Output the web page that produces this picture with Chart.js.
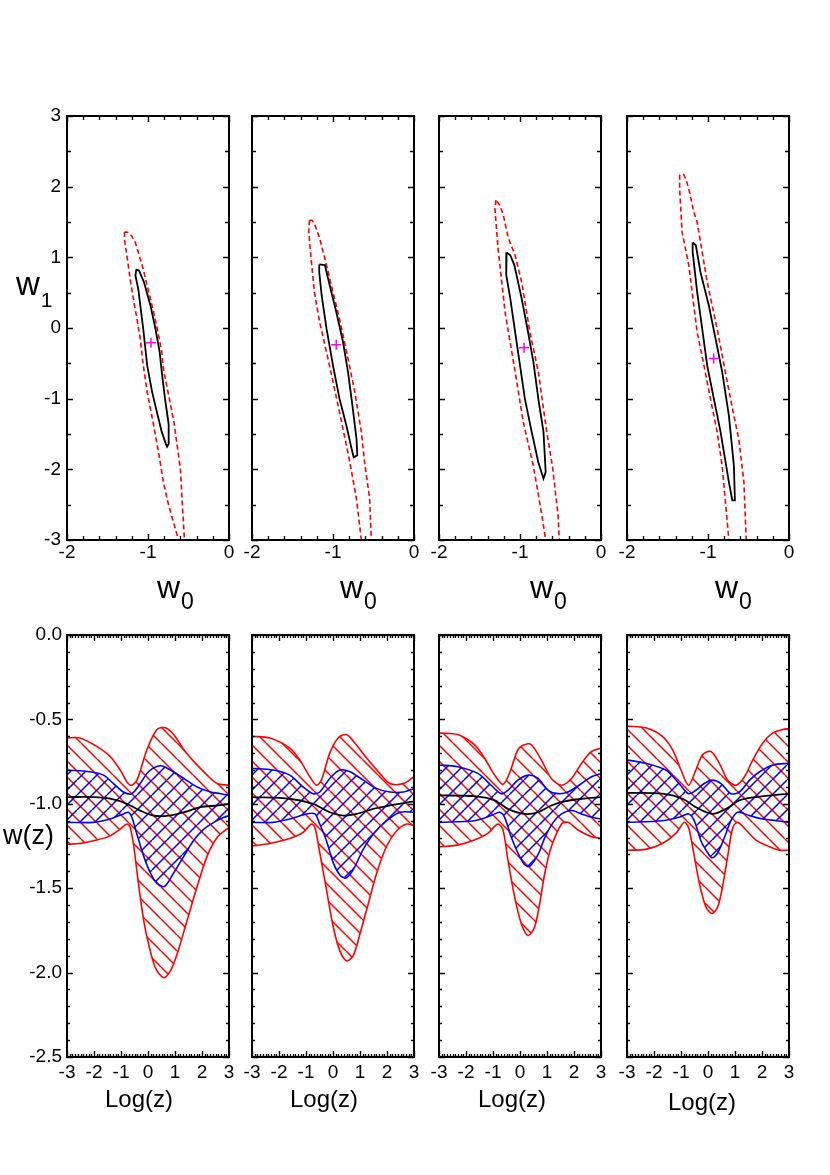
<!DOCTYPE html>
<html><head><meta charset="utf-8">
<script src="https://cdn.jsdelivr.net/npm/chart.js@4.4.1/dist/chart.umd.min.js"></script>
<style>
body{margin:0;background:#fff;width:830px;height:1175px;position:relative;overflow:hidden;font-family:"Liberation Sans",Arial,sans-serif;}
canvas{position:absolute;}
.lbl{position:absolute;white-space:nowrap;line-height:1;color:#000;font-family:"Liberation Sans",Arial,sans-serif;}
.sb{position:relative;margin-left:1px;}
</style></head><body>
<script>
// ---------- DATA ----------
// top row: confidence contours in (w0, w1)
const c1Inner = [[-1.144,0.83],[-1.155,0.74],[-1.12,0.55],[-1.095,0.32],[-1.06,0.0],[-1.01,-0.53],[-0.95,-0.9],[-0.89,-1.19],[-0.83,-1.47],[-0.78,-1.64],[-0.765,-1.68],[-0.745,-1.64],[-0.745,-1.36],[-0.79,-1.0],[-0.83,-0.62],[-0.856,-0.34],[-0.91,0.0],[-0.97,0.32],[-1.05,0.65],[-1.11,0.81],[-1.144,0.83]];
const c1Outer = [[-1.29,1.36],[-1.29,1.25],[-1.26,1.02],[-1.22,0.69],[-1.18,0.41],[-1.136,0.13],[-1.095,-0.15],[-1.07,-0.43],[-1.01,-0.905],[-0.93,-1.38],[-0.856,-1.85],[-0.81,-2.18],[-0.745,-2.51],[-0.64,-2.93],[-0.62,-3.1],[-0.545,-3.1],[-0.55,-3.0],[-0.58,-2.41],[-0.60,-1.99],[-0.68,-1.33],[-0.745,-0.95],[-0.81,-0.58],[-0.83,-0.34],[-0.885,-0.01],[-0.95,0.32],[-1.01,0.60],[-1.07,0.88],[-1.156,1.21],[-1.2,1.30],[-1.24,1.35],[-1.29,1.36]];
const c1Best = [-0.963,-0.21];

const c2Inner = [[-1.17,0.90],[-1.17,0.79],[-1.14,0.46],[-1.08,-0.01],[-1.0,-0.53],[-0.92,-1.0],[-0.835,-1.38],[-0.77,-1.71],[-0.745,-1.83],[-0.70,-1.80],[-0.71,-1.57],[-0.76,-1.10],[-0.815,-0.62],[-0.876,-0.20],[-0.96,0.23],[-1.04,0.60],[-1.10,0.89],[-1.17,0.90]];
const c2Outer = [[-1.29,1.525],[-1.30,1.36],[-1.27,0.98],[-1.23,0.51],[-1.165,0.085],[-1.08,-0.34],[-1.0,-0.76],[-0.92,-1.19],[-0.80,-1.85],[-0.71,-2.42],[-0.65,-3.0],[-0.63,-3.1],[-0.52,-3.1],[-0.527,-3.0],[-0.547,-2.42],[-0.61,-1.90],[-0.65,-1.47],[-0.73,-0.91],[-0.815,-0.43],[-0.92,0.13],[-1.02,0.60],[-1.08,0.89],[-1.165,1.27],[-1.23,1.48],[-1.26,1.525],[-1.29,1.525]];
const c2Best = [-0.96,-0.236];

const c3Inner = [[-1.165,1.07],[-1.17,0.75],[-1.12,0.42],[-1.06,-0.06],[-1.0,-0.53],[-0.94,-1.0],[-0.856,-1.47],[-0.774,-1.90],[-0.71,-2.13],[-0.683,-2.04],[-0.71,-1.47],[-0.774,-1.0],[-0.835,-0.48],[-0.90,-0.06],[-0.98,0.42],[-1.07,0.89],[-1.12,1.03],[-1.165,1.07]];
const c3Outer = [[-1.296,1.81],[-1.31,1.69],[-1.27,1.12],[-1.185,0.23],[-1.06,-0.62],[-0.96,-1.33],[-0.835,-1.95],[-0.73,-2.65],[-0.683,-3.0],[-0.67,-3.1],[-0.51,-3.1],[-0.515,-3.0],[-0.53,-2.65],[-0.60,-1.95],[-0.67,-1.47],[-0.774,-0.62],[-0.877,-0.06],[-0.98,0.65],[-1.06,1.03],[-1.144,1.27],[-1.206,1.60],[-1.25,1.74],[-1.296,1.81]];
const c3Best = [-0.95,-0.28];

const c4Inner = [[-1.19,1.21],[-1.19,1.08],[-1.134,0.51],[-1.072,-0.01],[-1.01,-0.53],[-0.928,-1.0],[-0.845,-1.47],[-0.742,-2.18],[-0.70,-2.44],[-0.668,-2.44],[-0.68,-1.95],[-0.742,-1.24],[-0.825,-0.62],[-0.907,-0.15],[-0.99,0.32],[-1.093,0.79],[-1.15,1.17],[-1.19,1.21]];
const c4Outer = [[-1.35,2.17],[-1.35,1.97],[-1.32,1.36],[-1.237,0.89],[-1.196,0.51],[-1.134,-0.06],[-1.05,-0.53],[-0.97,-1.0],[-0.887,-1.47],[-0.825,-1.95],[-0.742,-3.0],[-0.73,-3.1],[-0.52,-3.1],[-0.528,-3.0],[-0.557,-2.18],[-0.62,-1.57],[-0.68,-1.24],[-0.763,-0.76],[-0.887,-0.01],[-1.01,0.65],[-1.134,1.50],[-1.175,1.64],[-1.237,1.97],[-1.278,2.12],[-1.30,2.17],[-1.35,2.17]];
const c4Best = [-0.93,-0.43];

// bottom row: w(z) bands vs log(z)
const p1RedUp = [[-3,-0.61],[-2.52,-0.61],[-1.9,-0.66],[-1.4,-0.72],[-1.03,-0.80],[-0.78,-0.87],[-0.62,-0.89],[-0.41,-0.86],[-0.04,-0.68],[0.33,-0.56],[0.64,-0.55],[0.95,-0.59],[1.33,-0.68],[1.7,-0.75],[2.19,-0.83],[2.56,-0.88],[3,-0.89]];
const p1RedLo = [[-3,-1.24],[-2.52,-1.235],[-1.9,-1.215],[-1.4,-1.19],[-1.03,-1.15],[-0.78,-1.12],[-0.66,-1.14],[-0.53,-1.25],[-0.34,-1.49],[-0.16,-1.69],[0.02,-1.83],[0.27,-1.97],[0.58,-2.03],[0.83,-1.99],[1.08,-1.89],[1.45,-1.69],[1.82,-1.49],[2.19,-1.31],[2.56,-1.20],[3,-1.14]];
const p1BlueUp = [[-3,-0.80],[-2.15,-0.81],[-1.65,-0.83],[-1.28,-0.88],[-0.91,-0.93],[-0.60,-0.94],[-0.29,-0.88],[0.02,-0.81],[0.46,-0.775],[0.83,-0.80],[1.33,-0.85],[1.82,-0.90],[2.32,-0.93],[2.69,-0.94],[3,-0.95]];
const p1BlueLo = [[-3,-1.11],[-2.02,-1.11],[-1.40,-1.09],[-0.91,-1.06],[-0.72,-1.05],[-0.60,-1.08],[-0.41,-1.18],[-0.16,-1.31],[0.09,-1.41],[0.33,-1.47],[0.61,-1.49],[0.95,-1.41],[1.33,-1.31],[1.70,-1.215],[2.07,-1.15],[2.44,-1.11],[2.81,-1.08],[3,-1.07]];
const p1Mean = [[-3,-0.96],[-2.02,-0.96],[-1.40,-0.97],[-0.78,-1.00],[-0.29,-1.04],[0.21,-1.07],[0.76,-1.07],[1.33,-1.05],[1.94,-1.02],[2.56,-1.01],[3,-1.00]];

const p2RedUp = [[-3,-0.60],[-2.34,-0.61],[-1.6,-0.67],[-1.23,-0.74],[-0.86,-0.84],[-0.61,-0.89],[-0.43,-0.86],[-0.12,-0.70],[0.19,-0.61],[0.5,-0.59],[0.81,-0.64],[1.25,-0.73],[1.74,-0.82],[2.11,-0.88],[2.61,-0.88],[3,-0.84]];
const p2RedLo = [[-3,-1.25],[-2.34,-1.235],[-1.6,-1.205],[-1.11,-1.17],[-0.80,-1.12],[-0.67,-1.14],[-0.49,-1.29],[-0.24,-1.51],[0.01,-1.73],[0.25,-1.87],[0.5,-1.93],[0.75,-1.90],[1.0,-1.77],[1.31,-1.59],[1.62,-1.41],[1.99,-1.25],[2.36,-1.16],[2.73,-1.12],[3,-1.13]];
const p2BlueUp = [[-3,-0.79],[-2.22,-0.80],[-1.6,-0.83],[-1.11,-0.90],[-0.74,-0.94],[-0.49,-0.93],[-0.12,-0.85],[0.25,-0.80],[0.63,-0.81],[1.12,-0.86],[1.62,-0.91],[2.11,-0.93],[2.61,-0.93],[3,-0.91]];
const p2BlueLo = [[-3,-1.11],[-2.22,-1.11],[-1.6,-1.09],[-0.98,-1.06],[-0.67,-1.06],[-0.49,-1.12],[-0.24,-1.22],[0.01,-1.35],[0.25,-1.42],[0.48,-1.44],[0.75,-1.39],[1.12,-1.27],[1.49,-1.18],[1.99,-1.10],[2.48,-1.05],[3,-1.05]];
const p2Mean = [[-3,-0.96],[-1.6,-0.97],[-0.74,-1.00],[-0.12,-1.05],[0.38,-1.07],[0.87,-1.06],[1.49,-1.03],[2.11,-1.01],[3,-0.985]];

const p3RedUp = [[-3,-0.58],[-2.31,-0.59],[-1.69,-0.65],[-1.31,-0.73],[-0.94,-0.83],[-0.63,-0.885],[-0.39,-0.82],[-0.08,-0.68],[0.17,-0.65],[0.42,-0.65],[0.79,-0.74],[1.16,-0.85],[1.54,-0.89],[1.91,-0.85],[2.28,-0.76],[2.65,-0.69],[3,-0.67]];
const p3RedLo = [[-3,-1.255],[-2.31,-1.245],[-1.69,-1.215],[-1.19,-1.175],[-0.82,-1.12],[-0.63,-1.155],[-0.45,-1.33],[-0.20,-1.55],[0.05,-1.71],[0.30,-1.78],[0.54,-1.73],[0.73,-1.59],[0.92,-1.41],[1.16,-1.255],[1.54,-1.12],[1.78,-1.11],[2.15,-1.155],[2.65,-1.195],[3,-1.205]];
const p3BlueUp = [[-3,-0.77],[-2.31,-0.78],[-1.56,-0.82],[-1.07,-0.89],[-0.70,-0.94],[-0.45,-0.92],[-0.08,-0.86],[0.30,-0.83],[0.67,-0.85],[1.04,-0.92],[1.41,-0.94],[1.78,-0.93],[2.28,-0.88],[2.65,-0.84],[3,-0.82]];
const p3BlueLo = [[-3,-1.11],[-1.69,-1.10],[-1.07,-1.07],[-0.76,-1.05],[-0.57,-1.08],[-0.32,-1.20],[-0.08,-1.29],[0.17,-1.36],[0.36,-1.37],[0.67,-1.30],[0.92,-1.20],[1.23,-1.11],[1.54,-1.06],[1.91,-1.04],[2.28,-1.06],[2.65,-1.08],[3,-1.09]];
const p3Mean = [[-3,-0.95],[-1.69,-0.955],[-0.94,-0.98],[-0.45,-1.03],[0.17,-1.06],[0.67,-1.05],[1.16,-1.01],[1.66,-0.985],[2.28,-0.97],[3,-0.96]];

const p4RedUp = [[-3,-0.54],[-2.31,-0.55],[-1.69,-0.60],[-1.31,-0.68],[-1.0,-0.80],[-0.72,-0.89],[-0.45,-0.80],[-0.20,-0.71],[0.11,-0.69],[0.42,-0.76],[0.73,-0.86],[1.04,-0.89],[1.35,-0.84],[1.66,-0.74],[2.03,-0.64],[2.40,-0.58],[2.77,-0.56],[3,-0.555]];
const p4RedLo = [[-3,-1.275],[-2.31,-1.27],[-1.69,-1.235],[-1.19,-1.175],[-0.88,-1.11],[-0.72,-1.14],[-0.57,-1.255],[-0.32,-1.47],[-0.08,-1.61],[0.15,-1.65],[0.36,-1.61],[0.54,-1.49],[0.73,-1.31],[0.92,-1.14],[1.10,-1.11],[1.41,-1.155],[1.78,-1.215],[2.28,-1.255],[2.65,-1.275],[3,-1.275]];
const p4BlueUp = [[-3,-0.74],[-2.31,-0.76],[-1.56,-0.80],[-1.07,-0.88],[-0.72,-0.94],[-0.45,-0.92],[-0.14,-0.88],[0.17,-0.86],[0.48,-0.88],[0.85,-0.94],[1.16,-0.93],[1.54,-0.86],[1.91,-0.81],[2.40,-0.77],[3,-0.76]];
const p4BlueLo = [[-3,-1.11],[-1.69,-1.10],[-1.07,-1.08],[-0.72,-1.06],[-0.51,-1.10],[-0.26,-1.22],[-0.01,-1.29],[0.15,-1.32],[0.36,-1.29],[0.61,-1.20],[0.85,-1.10],[1.10,-1.05],[1.54,-1.07],[2.03,-1.09],[2.53,-1.10],[3,-1.11]];
const p4Mean = [[-3,-0.935],[-1.69,-0.94],[-0.94,-0.97],[-0.45,-1.02],[0.15,-1.06],[0.67,-1.03],[1.16,-0.98],[1.78,-0.96],[3,-0.94]];

// axis ranges
const w0Range = [-2, 0];
const w1Range = [-3, 3];
const logzRange = [-3, 3];
const wzRange = [-2.5, 0];

// ---------- LAYOUT ----------
const panelLefts = [67, 252, 439, 627];
const PW = 162;
const TOP_Y = 116, TOP_H = 424;
const BOT_Y = 635, BOT_H = 422;
const ML = 50, MR = 20, MT = 20, MB = 40;
const FONT = '"Liberation Sans", Arial, sans-serif';
const TICK_FONT_SIZE = 19;

Chart.defaults.font.family = FONT;
Chart.defaults.font.size = TICK_FONT_SIZE;
Chart.defaults.color = '#000';

const toXY = a => a.map(p => ({x: p[0], y: p[1]}));

const frameTicks = {
  id: 'frameTicks',
  afterDraw(chart, args, o) {
    const {ctx, chartArea: a} = chart;
    const x = chart.scales.x, y = chart.scales.y;
    ctx.save();
    ctx.strokeStyle = '#000';
    ctx.lineWidth = 1.4;
    const isMaj = (v, m) => Math.abs(v / m - Math.round(v / m)) < 1e-6;
    const nx = Math.round((x.max - x.min) / o.xMinor);
    ctx.beginPath();
    for (let i = 0; i <= nx; i++) {
      const v = x.min + i * o.xMinor;
      const px = Math.round(x.getPixelForValue(v)) + 0.5;
      const L = isMaj(v, o.xMajor) ? o.majLen : o.minLen;
      ctx.moveTo(px, a.bottom); ctx.lineTo(px, a.bottom - L);
      ctx.moveTo(px, a.top); ctx.lineTo(px, a.top + L);
    }
    const ny = Math.round((y.max - y.min) / o.yMinor);
    for (let i = 0; i <= ny; i++) {
      const v = y.min + i * o.yMinor;
      const py = Math.round(y.getPixelForValue(v)) + 0.5;
      const L = isMaj(v, o.yMajor) ? o.majLen : o.minLen;
      ctx.moveTo(a.left, py); ctx.lineTo(a.left + L, py);
      ctx.moveTo(a.right, py); ctx.lineTo(a.right - L, py);
    }
    ctx.stroke();
    ctx.lineWidth = 2;
    ctx.strokeRect(a.left, a.top, a.right - a.left, a.bottom - a.top);
    ctx.restore();
  }
};

function makeCanvas(id, left, top, w, h) {
  const c = document.createElement('canvas');
  c.id = id; c.width = w; c.height = h;
  c.style.left = left + 'px'; c.style.top = top + 'px';
  c.style.width = w + 'px'; c.style.height = h + 'px';
  document.body.appendChild(c);
  return c;
}

function hatch(ctx, color, dir, s, lw) {
  const c = document.createElement('canvas');
  c.width = s; c.height = s;
  const g = c.getContext('2d');
  g.strokeStyle = color; g.lineWidth = lw;
  g.beginPath();
  for (const k of [-s, 0, s]) {
    if (dir === 'down') { g.moveTo(k, 0); g.lineTo(k + s, s); }
    else { g.moveTo(k + s, 0); g.lineTo(k, s); }
  }
  g.stroke();
  return ctx.createPattern(c, 'repeat');
}

function axisCfg(range, step, showLabels, pad, afterFit, fmt) {
  return {
    type: 'linear', min: range[0], max: range[1],
    afterFit,
    grid: {display: false, drawTicks: false},
    border: {display: false},
    ticks: {
      display: showLabels, stepSize: step, autoSkip: false, maxRotation: 0, minRotation: 0,
      padding: pad, color: '#000', font: {family: FONT, size: TICK_FONT_SIZE},
      callback: fmt
    }
  };
}

function baseOptions(xs, ys, tickOpts) {
  return {
    responsive: false, animation: false, devicePixelRatio: 1,
    layout: {padding: {left: 0, right: MR, top: MT, bottom: 0}},
    plugins: {legend: {display: false}, tooltip: {enabled: false}, frameTicks: tickOpts},
    scales: {x: xs, y: ys}
  };
}

// ---------- TOP ROW ----------
const contours = [[c1Inner, c1Outer, c1Best], [c2Inner, c2Outer, c2Best], [c3Inner, c3Outer, c3Best], [c4Inner, c4Outer, c4Best]];
contours.forEach((c, i) => {
  const cv = makeCanvas('top' + i, panelLefts[i] - ML, TOP_Y - MT, ML + PW + MR, MT + TOP_H + MB);
  const xs = axisCfg(w0Range, 1, true, 1, s => { s.height = MB; }, v => String(v));
  const ys = axisCfg(w1Range, 1, i === 0, 6, s => { s.width = ML; }, v => String(v));
  new Chart(cv, {
    type: 'scatter',
    data: {datasets: [
      {data: [{x: c[2][0], y: c[2][1]}], pointStyle: 'cross', pointRadius: 5, borderColor: '#ff00ff', borderWidth: 1.5, backgroundColor: '#ff00ff'},
      {data: toXY(c[0]), showLine: true, borderColor: '#000', borderWidth: 1.8, pointRadius: 0, tension: 0, fill: false},
      {data: toXY(c[1]), showLine: true, borderColor: '#ff0000', borderWidth: 1.6, borderDash: [5, 3], pointRadius: 0, tension: 0, fill: false}
    ]},
    options: baseOptions(xs, ys, {xMajor: 1, xMinor: 0.2, yMajor: 1, yMinor: 0.5, majLen: 6, minLen: 4}),
    plugins: [frameTicks]
  });
});

// ---------- BOTTOM ROW ----------
const bands = [[p1RedUp, p1RedLo, p1BlueUp, p1BlueLo, p1Mean], [p2RedUp, p2RedLo, p2BlueUp, p2BlueLo, p2Mean], [p3RedUp, p3RedLo, p3BlueUp, p3BlueLo, p3Mean], [p4RedUp, p4RedLo, p4BlueUp, p4BlueLo, p4Mean]];
bands.forEach((b, i) => {
  const cv = makeCanvas('bot' + i, panelLefts[i] - ML, BOT_Y - MT, ML + PW + MR, MT + BOT_H + MB);
  const ctx = cv.getContext('2d');
  const redHatch = hatch(ctx, '#ff0000', 'down', 16, 1.5);
  const blueHatch = hatch(ctx, '#0000ff', 'up', 15, 1.5);
  const xs = axisCfg(logzRange, 1, true, 4, s => { s.height = MB; }, v => String(v));
  const ys = axisCfg(wzRange, 0.5, i === 0, 5, s => { s.width = ML; }, v => Number(v).toFixed(1));
  const line = (d, col, extra) => Object.assign({data: toXY(d), showLine: true, borderColor: col, borderWidth: 1.6, pointRadius: 0, tension: 0.3, fill: false}, extra || {});
  new Chart(cv, {
    type: 'scatter',
    data: {datasets: [
      line(b[4], '#000000', {borderWidth: 1.8}),
      line(b[2], '#0000ff', {fill: '+1', backgroundColor: blueHatch}),
      line(b[3], '#0000ff'),
      line(b[0], '#ff0000', {fill: '+1', backgroundColor: redHatch}),
      line(b[1], '#ff0000')
    ]},
    options: baseOptions(xs, ys, {xMajor: 1, xMinor: 0.1, yMajor: 0.5, yMinor: 0.1, majLen: 6, minLen: 3}),
    plugins: [frameTicks]
  });
});

// ---------- TEXT LABELS ----------
function label(html, left, top, size) {
  const d = document.createElement('div');
  d.className = 'lbl';
  d.style.left = left + 'px'; d.style.top = top + 'px'; d.style.fontSize = size + 'px';
  d.innerHTML = html;
  document.body.appendChild(d);
}
label('w<span class="sb" style="font-size:21px;top:12px">1</span>', 16, 267, 33);
[157, 340, 530, 715].forEach(l => label('w<span class="sb" style="font-size:23px;top:11px">0</span>', l, 571, 32));
label('w(z)', 3, 822, 27);
[105, 290, 478, 668].forEach((l, i) => label('Log(z)', l, i === 3 ? 1090 : 1087, 24));
</script>
</body></html>
